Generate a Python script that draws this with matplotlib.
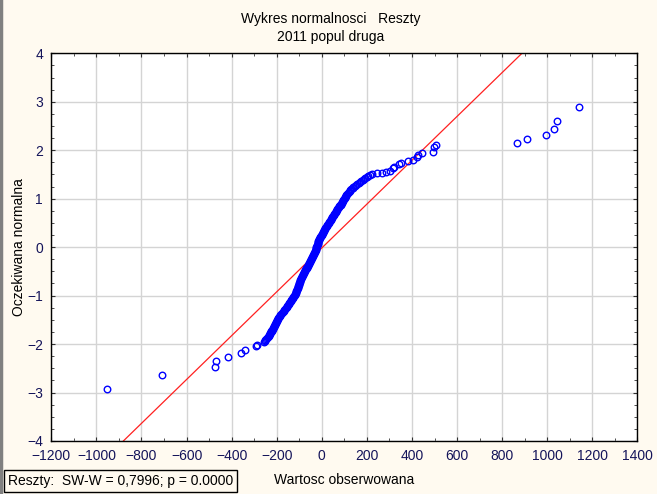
import matplotlib
matplotlib.use("Agg")
import matplotlib.pyplot as plt
from matplotlib.ticker import MultipleLocator
from matplotlib.lines import Line2D

plt.rcParams['font.family'] = ['Liberation Sans', 'DejaVu Sans']

tail_low_x = [-952, -709, -472, -469, -416, -358, -341, -292, -287, -256]
tail_low_y = [-2.93, -2.63, -2.47, -2.35, -2.26, -2.18, -2.12, -2.05, -2.01, -1.95]

band_x = [-254, -250, -246, -242, -238, -235, -233, -231, -229, -226,
          -224, -222, -220, -218, -215, -213, -211, -209, -206, -204,
          -202, -200, -198, -195, -193, -191, -187, -184, -180, -177,
          -173, -170, -166, -163, -159, -156, -153, -150, -147, -145,
          -142, -139, -137, -134, -131, -129, -126, -123, -121, -118,
          -116, -115, -113, -111, -110, -108, -106, -105, -103, -102,
          -100, -98, -97, -95, -93, -91, -88, -86, -84, -82,
          -80, -77, -75, -73, -71, -69, -67, -64, -62, -60,
          -58, -55, -53, -51, -49, -47, -45, -43, -41, -39,
          -36, -34, -32, -30, -28, -27, -25, -24, -22, -21,
          -19, -18, -17, -15, -14, -12, -10, -8, -5, -3,
          -1, 1, 4, 6, 8, 10, 13, 16, 19, 22,
          25, 28, 31, 33, 36, 39, 42, 44, 47, 50,
          53, 55, 58, 61, 64, 66, 69, 72, 75, 77,
          80, 83, 86, 88, 91, 94, 96, 99, 101, 104,
          107, 109, 112, 115, 119, 123, 127, 131, 136, 140,
          145, 151, 157, 163, 169, 175, 181, 187, 193, 199,
          206, 215, 224]
band_y = [-1.94, -1.92, -1.90, -1.88, -1.86, -1.84, -1.82, -1.80, -1.78, -1.76,
          -1.74, -1.72, -1.70, -1.68, -1.66, -1.64, -1.62, -1.60, -1.58, -1.56,
          -1.54, -1.52, -1.50, -1.48, -1.46, -1.44, -1.42, -1.40, -1.38, -1.36,
          -1.34, -1.32, -1.30, -1.28, -1.26, -1.24, -1.22, -1.20, -1.18, -1.16,
          -1.14, -1.12, -1.10, -1.08, -1.06, -1.04, -1.02, -1.00, -0.98, -0.96,
          -0.94, -0.92, -0.90, -0.88, -0.86, -0.84, -0.82, -0.80, -0.78, -0.76,
          -0.74, -0.72, -0.70, -0.68, -0.66, -0.64, -0.62, -0.60, -0.58, -0.56,
          -0.54, -0.52, -0.50, -0.48, -0.46, -0.44, -0.42, -0.40, -0.38, -0.36,
          -0.34, -0.32, -0.30, -0.28, -0.26, -0.24, -0.22, -0.20, -0.18, -0.16,
          -0.14, -0.12, -0.10, -0.08, -0.06, -0.04, -0.02, 0.00, 0.02, 0.04,
          0.06, 0.08, 0.10, 0.12, 0.14, 0.16, 0.18, 0.20, 0.22, 0.24,
          0.26, 0.28, 0.30, 0.32, 0.34, 0.36, 0.38, 0.40, 0.42, 0.44,
          0.46, 0.48, 0.50, 0.52, 0.54, 0.56, 0.58, 0.60, 0.62, 0.64,
          0.66, 0.68, 0.70, 0.72, 0.74, 0.76, 0.78, 0.80, 0.82, 0.84,
          0.86, 0.88, 0.90, 0.92, 0.94, 0.96, 0.98, 1.00, 1.02, 1.04,
          1.06, 1.08, 1.10, 1.12, 1.14, 1.16, 1.18, 1.20, 1.22, 1.24,
          1.26, 1.28, 1.30, 1.32, 1.34, 1.36, 1.38, 1.40, 1.42, 1.44,
          1.46, 1.48, 1.50]

tail_high_x = [243, 265, 283, 301, 317, 322, 342, 350, 382, 404,
               424, 428, 446, 494, 498, 505, 864, 908, 993, 1028, 1042, 1142]
tail_high_y = [1.52, 1.54, 1.55, 1.57, 1.63, 1.66, 1.72, 1.74, 1.78, 1.80,
               1.87, 1.90, 1.94, 1.97, 2.07, 2.11, 2.155, 2.24, 2.32, 2.44, 2.61, 2.90]

# fitted normal line: expected = (x - mean) / sd
fit_mean = 3.5
fit_sd = 221.0

stats_text = "Reszty:  SW-W = 0,7996; p = 0.0000"

obs = tail_low_x + band_x + tail_high_x
expd = tail_low_y + band_y + tail_high_y

bg = '#fffaf0'
tick_col = '#14145a'

fig = plt.figure(figsize=(6.57, 4.94), dpi=100, facecolor=bg)
ax = fig.add_axes([0.0781, 0.1073, 0.8922, 0.7848])
ax.set_facecolor('white')

ax.grid(True, color='#d4d4d4', linewidth=1.0)
ax.set_axisbelow(True)

ax.axline((fit_mean, 0.0), slope=1.0 / fit_sd, color='#ff2020', linewidth=0.9, zorder=2)
ax.plot(obs, expd, linestyle='none', marker='o', markersize=4.7,
        markerfacecolor='none', markeredgecolor='#0000ff', markeredgewidth=1.0, zorder=3)

ax.set_xlim(-1200, 1400)
ax.set_ylim(-4, 4)
ax.xaxis.set_major_locator(MultipleLocator(200))
ax.xaxis.set_minor_locator(MultipleLocator(100))
ax.yaxis.set_major_locator(MultipleLocator(1))
ax.yaxis.set_minor_locator(MultipleLocator(0.25))
ax.tick_params(which='both', direction='in', top=True, right=True, color='#303030')
ax.tick_params(which='major', length=3, width=0.8, labelsize=10, labelcolor=tick_col, pad=6)
ax.tick_params(which='minor', length=2, width=0.6)
for s in ax.spines.values():
    s.set_linewidth(1.0)
    s.set_color('black')

ax.set_xlabel("Wartosc obserwowana", fontsize=10, labelpad=7)
ax.set_ylabel("Oczekiwana normalna", fontsize=10, labelpad=1)
fig.text(0.503, 0.962, "Wykres normalnosci   Reszty", ha='center', va='center', fontsize=10)
fig.text(0.503, 0.925, "2011 popul druga", ha='center', va='center', fontsize=10)

fig.text(0.012, 0.026, stats_text, ha='left', va='center', fontsize=10,
         bbox=dict(boxstyle='square,pad=0.3', facecolor=bg, edgecolor='black', linewidth=1.0))

# grey frame on the left edge of the window
fig.add_artist(Line2D([0.002, 0.002], [0, 1], transform=fig.transFigure,
                      color='#808080', linewidth=2.5))

fig.savefig("out.png", dpi=100, facecolor=bg)
